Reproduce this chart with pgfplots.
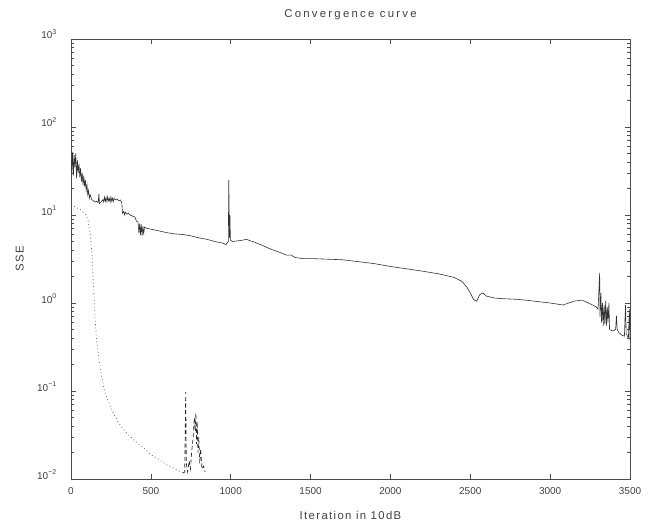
\documentclass[border=0pt]{standalone}
\usepackage{fontspec}
\setmainfont{Liberation Sans}
\usepackage{pgfplots}
\pgfplotsset{compat=1.18}
\begin{document}
\begin{tikzpicture}
\begin{semilogyaxis}[
  scale only axis, width=419.25pt, height=330pt,
  xmin=0, xmax=3500, ymin=0.01, ymax=1000,
  xtick={0,500,1000,1500,2000,2500,3000,3500},
  ytick={0.01,0.1,1,10,100,1000},
  yticklabels={10\textsuperscript{−2},10\textsuperscript{−1},10\textsuperscript{0},10\textsuperscript{1},10\textsuperscript{2},10\textsuperscript{3}},
  /pgf/number format/assume math mode=true,
  /pgf/number format/1000 sep={},
  axis line style={black!70, line width=0.5pt},
  every tick/.style={black!70, line width=0.4pt},
  major tick length=4pt, minor tick length=2pt,
  tick label style={font=\fontsize{7.5}{9}\selectfont, text=black!75},
  xticklabel style={yshift=-3pt},
  yticklabel style={anchor=base east, xshift=-7pt},
  clip=true,
]
\addplot[black!80, line width=0.45pt] coordinates {
(0,45) (5,30) (10,52) (15,28) (20,48) (25,35) (30,50) (35,26) (40,42) (45,30)
(50,38) (55,27) (60,34) (65,24) (70,30) (75,22) (80,28) (85,21) (90,25) (95,19)
(100,22) (105,17) (110,19) (115,15.5) (120,17) (130,15) (140,14.5) (150,14) (160,14.3) (170,13.8)
(175,17.5) (178,13.5) (190,14.2) (200,15) (205,14) (210,16) (215,14.3) (220,15.8) (225,14.2) (230,16.2)
(235,14.5) (240,15.5) (245,14) (250,16) (255,14.3) (260,15.5) (265,14.2) (270,15.5) (280,14.8) (290,15.2)
(300,14.5) (310,14.8) (318,13.8) (322,10.5) (330,11) (335,10) (340,10.8) (350,10.2) (360,10.5) (370,10)
(380,9.8) (400,9.5) (410,8.5) (420,8.3) (425,6.2) (430,8) (435,5.9) (440,7.8) (445,5.8) (450,7.5)
(455,6) (460,7.3) (470,7.1) (500,6.9) (550,6.6) (600,6.3) (650,6.1) (700,6.0) (750,5.8) (800,5.5)
(850,5.3) (900,5.0) (950,4.8) (970,4.6) (985,5.0) (988,25) (992,5.5) (995,10) (998,5.2) (1010,5.0)
(1050,5.1) (1080,5.2) (1100,5.3) (1120,5.1) (1150,4.9) (1200,4.5) (1250,4.1) (1300,3.8) (1350,3.5) (1380,3.5)
(1400,3.3) (1450,3.2) (1500,3.2) (1600,3.15) (1700,3.1) (1800,2.95) (1900,2.8) (2000,2.6) (2100,2.45) (2200,2.3)
(2300,2.15) (2400,1.95) (2450,1.75) (2480,1.5) (2500,1.3) (2520,1.1) (2540,1.05) (2560,1.25) (2580,1.3) (2600,1.2)
(2650,1.14) (2700,1.12) (2800,1.1) (2900,1.05) (3000,1.0) (3080,0.95) (3150,1.05) (3200,1.08) (3250,0.98) (3290,0.9)
(3300,0.85) (3310,2.2) (3312,0.7) (3318,1.3) (3322,0.6) (3328,1.0) (3332,0.55) (3338,0.95) (3342,0.58) (3348,1.05)
(3352,0.55) (3358,0.9) (3362,0.6) (3368,1.0) (3372,0.5) (3390,0.48) (3410,0.5) (3415,0.72) (3420,0.5) (3430,0.46)
(3450,0.43) (3465,0.42) (3472,0.95) (3476,0.45) (3490,0.4) (3496,0.85) (3500,0.38)
};
\addplot[black!60, dotted, line width=0.6pt] coordinates {
(0,13) (60,11.5) (95,10) (107,8.7) (120,6) (130,4) (140,1.7) (150,0.69) (160,0.38) (177,0.22)
(192,0.144) (213,0.095) (240,0.072) (265,0.056) (300,0.043) (350,0.033) (400,0.027) (450,0.023) (500,0.019) (557,0.0164)
(600,0.0145) (663,0.0127) (700,0.0117)
};
\addplot[black!85, densely dashed, line width=0.5pt] coordinates {
(700,0.0117) (712,0.012) (718,0.097) (722,0.015) (730,0.012) (740,0.016) (748,0.013) (755,0.02) (765,0.03) (772,0.05)
(778,0.035) (782,0.056) (786,0.025) (790,0.045) (795,0.02) (800,0.03) (806,0.015) (812,0.022) (820,0.013) (830,0.014) (840,0.012)
};
\end{semilogyaxis}
\node[anchor=base, font=\fontsize{8.5}{10}\selectfont\addfontfeatures{LetterSpace=20}, text=black!75] at ([yshift=16pt]current axis.north) {Convergence curve};
\node[anchor=base, font=\fontsize{8.5}{10}\selectfont\addfontfeatures{LetterSpace=12}, text=black!75] at ([yshift=-30pt]current axis.south) {Iteration in 10dB};
\node[anchor=south, rotate=90, font=\fontsize{8.5}{10}\selectfont\addfontfeatures{LetterSpace=12}, text=black!75] at ([xshift=-32pt]current axis.west) {SSE};
\path[use as bounding box] ([xshift=-53.25pt,yshift=-33pt]current axis.south west) rectangle ([xshift=13.5pt,yshift=29.25pt]current axis.north east);
\end{tikzpicture}
\end{document}
